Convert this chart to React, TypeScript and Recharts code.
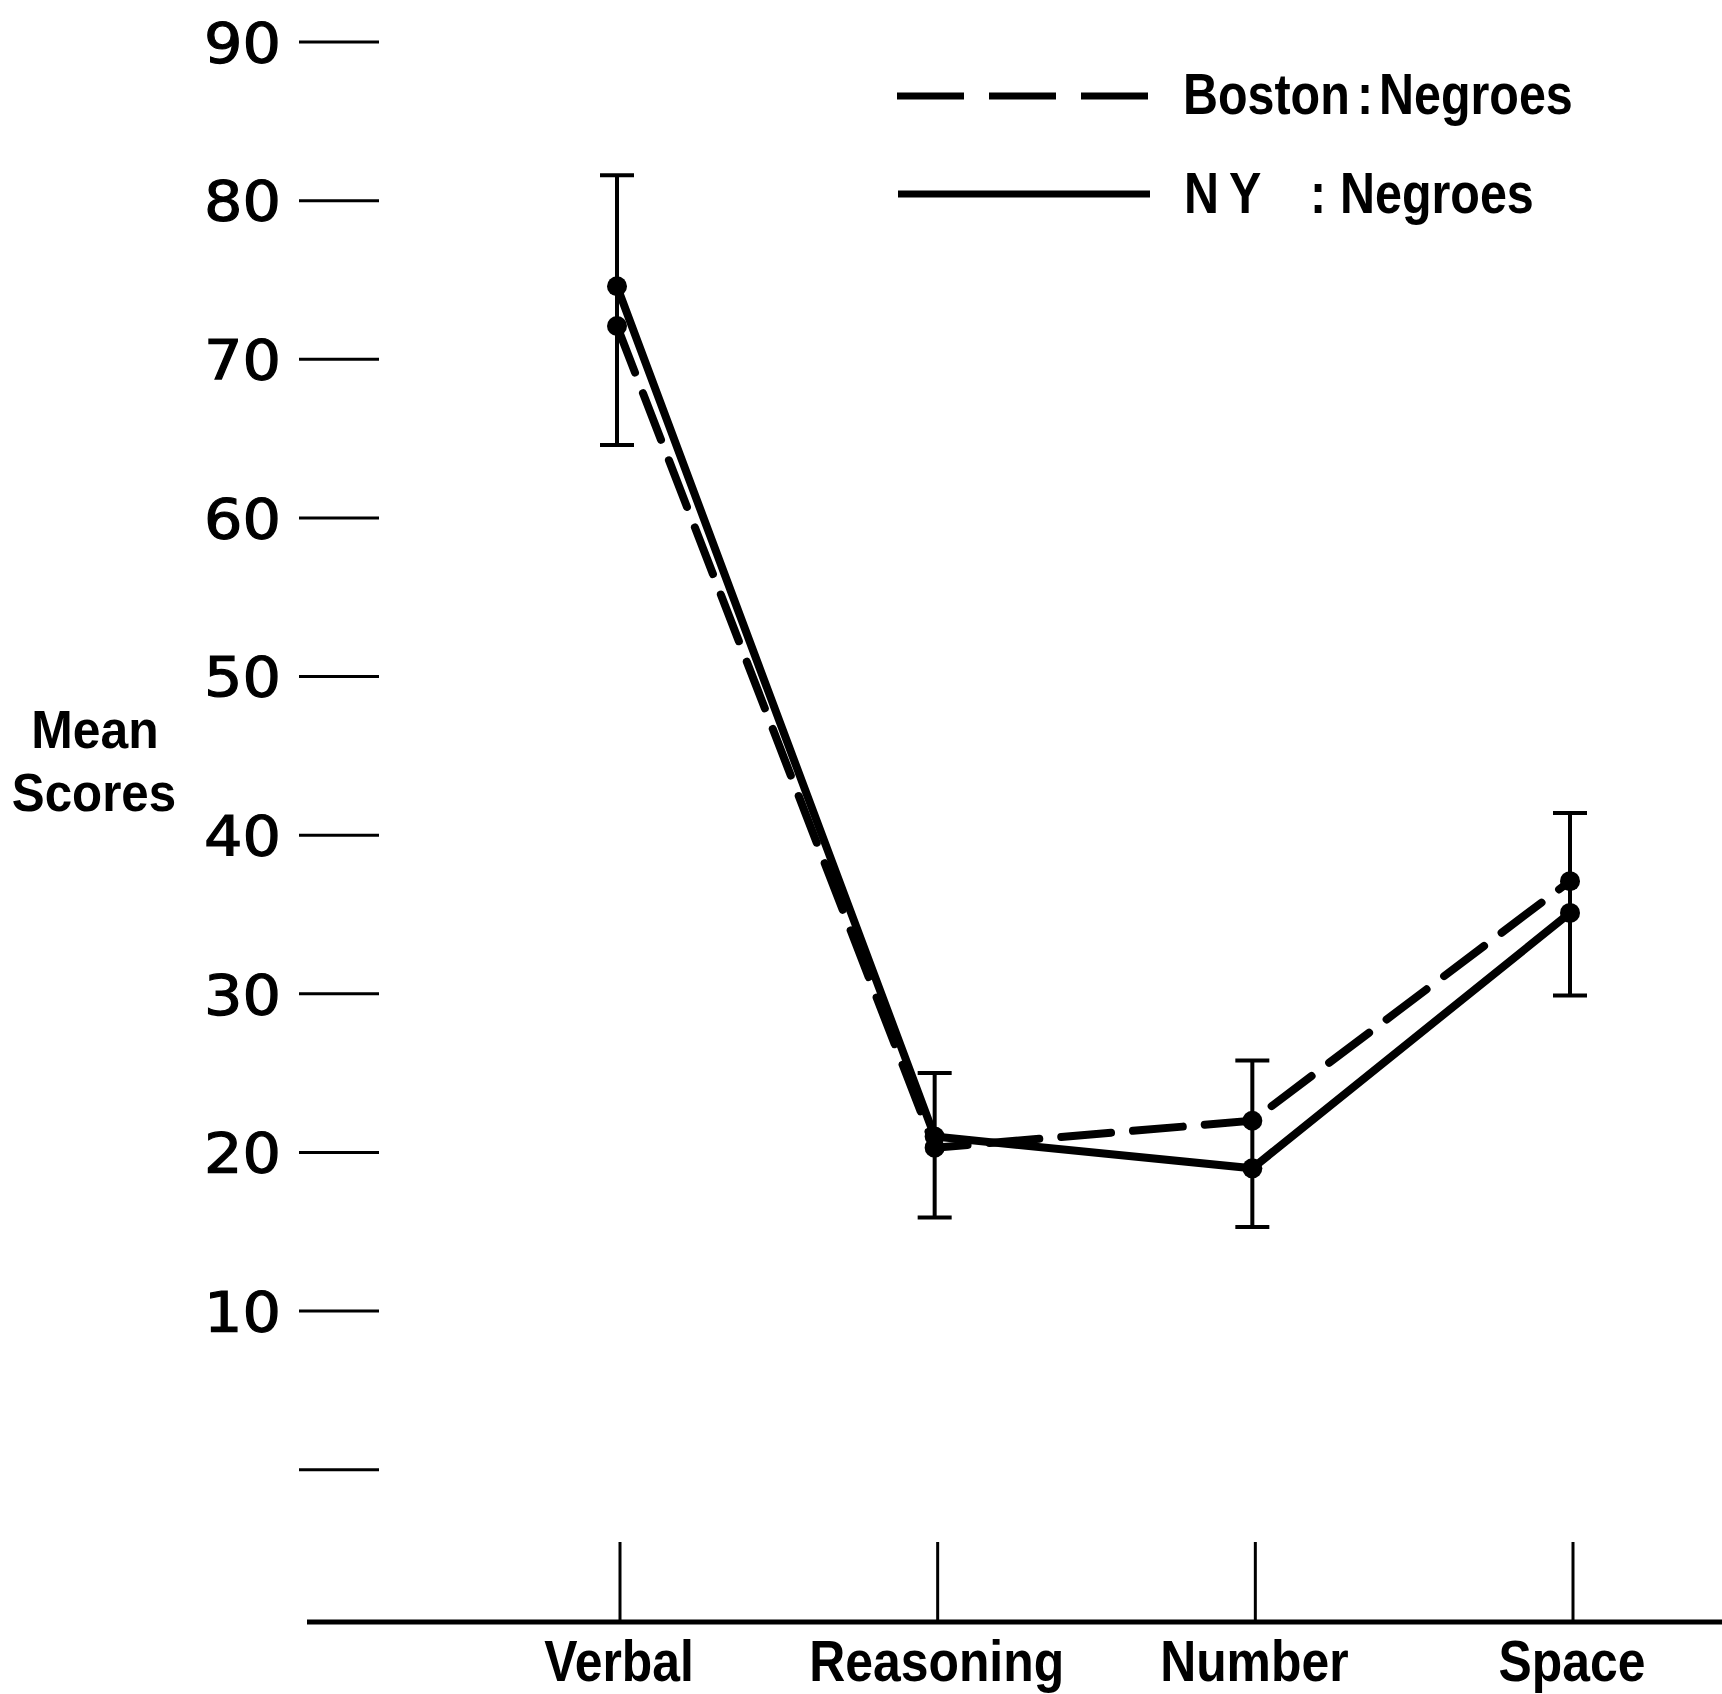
import React from 'react';
import { LineChart, Line, XAxis, YAxis, ErrorBar, Legend, Label } from 'recharts';

const categories = ['Verbal', 'Reasoning', 'Number', 'Space'];
const bostonNegroes = [72.1, 20.3, 22.0, 37.1];
const nyNegroes = [74.6, 21.0, 19.0, 35.1];
const errLow = [64.6, 15.9, 15.3, 29.9];
const errHigh = [81.6, 25.0, 25.8, 41.4];
const yTicks = [0, 10, 20, 30, 40, 50, 60, 70, 80, 90];

const rows = categories.map((cat, i) => ({
  cat,
  boston: bostonNegroes[i],
  ny: nyNegroes[i],
  errHigh: errHigh[i],
  errRange: [errHigh[i] - errLow[i], 0],
}));

const LABEL_FONT = '"Liberation Sans", Arial, sans-serif';
const DIGIT_FONT = '"DejaVu Sans", sans-serif';

const YTick = (props: any) => {
  const { x, y, payload } = props;
  return (
    <g>
      <line x1={x - 8} x2={x + 72} y1={y} y2={y} stroke="#000" strokeWidth={3} />
      {payload.value !== 0 && (
        <text
          transform={`translate(${x - 26} ${y}) scale(1.1 1)`}
          dy="0.36em"
          textAnchor="end"
          fontSize={55}
          fontFamily={DIGIT_FONT}
          fill="#000"
          stroke="#000"
          strokeWidth={1.2}
        >
          {payload.value}
        </text>
      )}
    </g>
  );
};

const XTick = (props: any) => {
  const { x, y, payload } = props;
  return (
    <g>
      <line x1={x + 3} x2={x + 3} y1={y} y2={y - 80} stroke="#000" strokeWidth={3} />
      <text
        transform={`translate(${x + 2} ${y + 59}) scale(0.86 1)`}
        textAnchor="middle"
        fontSize={58}
        fontWeight="bold"
        fontFamily={LABEL_FONT}
        fill="#000"
      >
        {payload.value}
      </text>
    </g>
  );
};

const YLabel = () => (
  <g>
    <text transform="translate(95 748) scale(0.94 1)" textAnchor="middle" fontSize={53} fontWeight="bold" fontFamily={LABEL_FONT} fill="#000">Mean</text>
    <text transform="translate(94 811) scale(0.93 1)" textAnchor="middle" fontSize={53} fontWeight="bold" fontFamily={LABEL_FONT} fill="#000">Scores</text>
  </g>
);

const LegendText = ({ x, y, children }: any) => (
  <text
    transform={`translate(${x} ${y}) scale(0.85 1)`}
    dy="0.36em"
    fontSize={57}
    fontWeight="bold"
    fontFamily={LABEL_FONT}
    fill="#000"
  >
    {children}
  </text>
);

const LegendContent = () => (
  <svg width={780} height={190} style={{ display: 'block' }}>
    <line x1={17} x2={268} y1={56} y2={56} stroke="#000" strokeWidth={7} strokeDasharray="67 25" />
    <LegendText x={303} y={53}>Boston</LegendText>
    <LegendText x={477} y={53}>:</LegendText>
    <LegendText x={499} y={53}>Negroes</LegendText>
    <line x1={18} x2={270} y1={154} y2={154} stroke="#000" strokeWidth={7} />
    <LegendText x={304} y={152}>N</LegendText>
    <LegendText x={349} y={152}>Y</LegendText>
    <LegendText x={430} y={152}>:</LegendText>
    <LegendText x={460} y={152}>Negroes</LegendText>
  </svg>
);

export default function App() {
  return (
    <div style={{ position: 'absolute', left: 0, top: 0, width: 1722, height: 1694, background: '#fff' }}>
      <LineChart width={1722} height={1694} data={rows} margin={{ top: 42, right: 0, bottom: 0, left: 0 }}>
        <XAxis
          dataKey="cat"
          scale="point"
          padding={{ left: 310, right: 152 }}
          height={72}
          tickSize={0}
          tickMargin={0}
          tickLine={false}
          axisLine={{ stroke: '#000', strokeWidth: 5 }}
          tick={<XTick />}
          interval={0}
        />
        <YAxis
          type="number"
          domain={[-9.6, 90]}
          ticks={yTicks}
          interval={0}
          width={307}
          axisLine={false}
          tickLine={false}
          tickSize={0}
          tickMargin={0}
          tick={<YTick />}
        >
          <Label content={<YLabel />} />
        </YAxis>
        <Legend
          layout="horizontal"
          verticalAlign="middle"
          align="center"
          wrapperStyle={{ left: 880, top: 40, width: 780, height: 190 }}
          content={<LegendContent />}
        />
        <Line
          dataKey="errHigh"
          stroke="none"
          dot={false}
          activeDot={false}
          legendType="none"
          isAnimationActive={false}
        >
          <ErrorBar dataKey="errRange" width={17} strokeWidth={4} stroke="#000" direction="y" />
        </Line>
        <Line
          type="linear"
          dataKey="boston"
          stroke="#000"
          strokeWidth={8}
          strokeDasharray="50 22"
          strokeLinecap="round"
          dot={{ r: 10, fill: '#000', stroke: 'none' }}
          activeDot={false}
          isAnimationActive={false}
        />
        <Line
          type="linear"
          dataKey="ny"
          stroke="#000"
          strokeWidth={8}
          dot={{ r: 10, fill: '#000', stroke: 'none' }}
          activeDot={false}
          isAnimationActive={false}
        />
      </LineChart>
    </div>
  );
}
